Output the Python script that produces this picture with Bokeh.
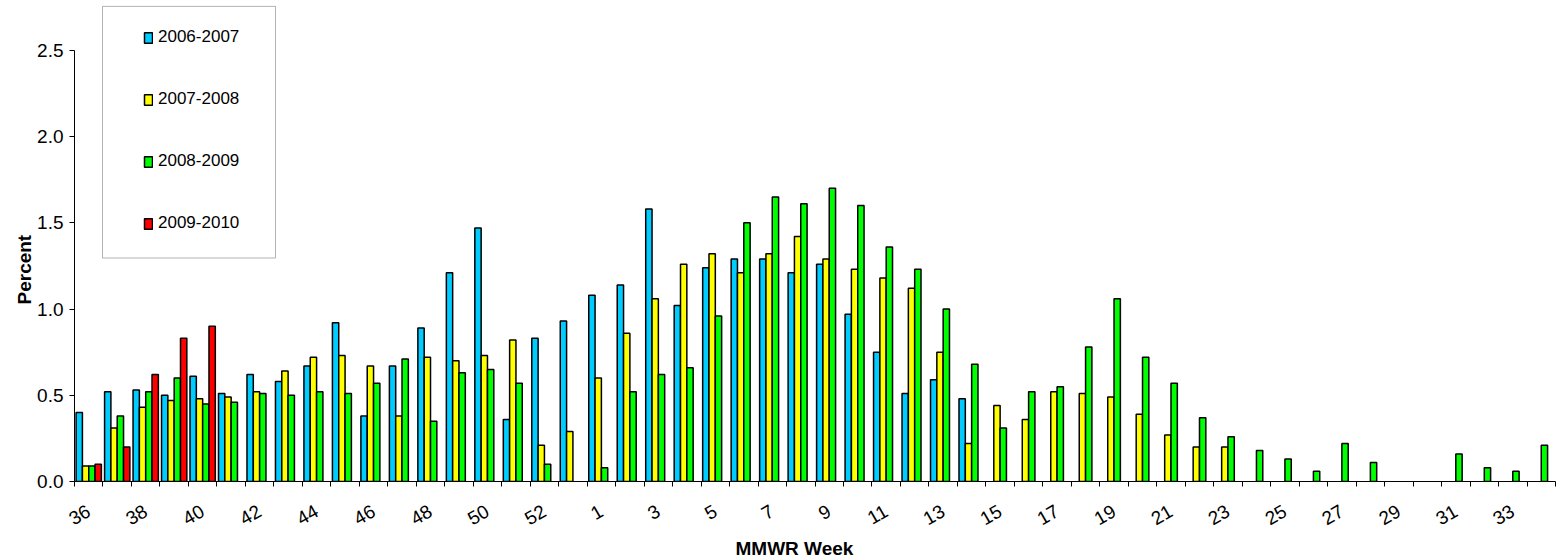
import math
from bokeh.plotting import figure
from bokeh.models import (Range1d, FixedTicker, Legend, LegendItem, BoxAnnotation,
                          ColumnDataSource, NumeralTickFormatter, Title)
from bokeh.embed import file_html
from bokeh.resources import INLINE

# ---------------- data ----------------
weeks = list(range(36, 54)) + list(range(1, 35))
week_labels = [str(w) for w in weeks]

series_names = ["2006-2007", "2007-2008", "2008-2009", "2009-2010"]
series_colors = ["#00CCFF", "#FFFF00", "#00FF00", "#FF0000"]

s2006_2007 = [0.40, 0.52, 0.53, 0.50, 0.61, 0.51, 0.62, 0.58, 0.67, 0.92, 0.38, 0.67,
              0.89, 1.21, 1.47, 0.36, 0.83, 0.93,
              1.08, 1.14, 1.58, 1.02, 1.24, 1.29, 1.29, 1.21, 1.26, 0.97, 0.75, 0.51,
              0.59, 0.48] + [None] * 20

s2007_2008 = [0.09, 0.31, 0.43, 0.47, 0.48, 0.49, 0.52, 0.64, 0.72, 0.73, 0.67, 0.38,
              0.72, 0.70, 0.73, 0.82, 0.21, 0.29,
              0.60, 0.86, 1.06, 1.26, 1.32, 1.21, 1.32, 1.42, 1.29, 1.23, 1.18, 1.12,
              0.75, 0.22, 0.44, 0.36, 0.52, 0.51, 0.49, 0.39, 0.27, 0.20, 0.20] + [None] * 11

s2008_2009 = [0.09, 0.38, 0.52, 0.60, 0.45, 0.46, 0.51, 0.50, 0.52, 0.51, 0.57, 0.71,
              0.35, 0.63, 0.65, 0.57, 0.10, None,
              0.08, 0.52, 0.62, 0.66, 0.96, 1.50, 1.65, 1.61, 1.70, 1.60, 1.36, 1.23,
              1.00, 0.68, 0.31, 0.52, 0.55, 0.78, 1.06, 0.72, 0.57, 0.37, 0.26, 0.18,
              0.13, 0.06, 0.22, 0.11, None, None, 0.16, 0.08, 0.06, 0.21]

s2009_2010 = [0.10, 0.20, 0.62, 0.83, 0.90] + [None] * 47

y_ticks = [0.0, 0.5, 1.0, 1.5, 2.0, 2.5]

all_series = [s2006_2007, s2007_2008, s2008_2009, s2009_2010]

# ---------------- figure ----------------
FONT = "Liberation Sans"
ncat = len(weeks)
p = figure(width=1556, height=559,
           x_range=Range1d(-0.5, ncat - 0.5), y_range=Range1d(0, 2.789),
           output_backend="svg", toolbar_location=None,
           min_border_left=74, min_border_right=1, min_border_top=0,
           min_border_bottom=77)
p.outline_line_color = None
p.xgrid.grid_line_color = None
p.ygrid.grid_line_color = None
p.background_fill_color = "white"

n = len(all_series)
bw = 0.222
renderers = []
for k, (vals, name, col) in enumerate(zip(all_series, series_names, series_colors)):
    off = (k - (n - 1) / 2) * bw
    xs = [i + off for i, v in enumerate(vals) if v is not None]
    ys = [v for v in vals if v is not None]
    src = ColumnDataSource(dict(x=xs, top=ys))
    r = p.vbar(x="x", top="top", bottom=0, width=bw, source=src,
               fill_color=col, line_color="black", line_width=1.5)
    renderers.append(r)

# x axis
xa = p.xaxis[0]
xa.ticker = FixedTicker(ticks=list(range(0, ncat, 2)),
                        minor_ticks=[i - 0.5 for i in range(ncat + 1)])
xa.major_label_overrides = {i: week_labels[i] for i in range(0, ncat, 2)}
xa.major_label_orientation = math.radians(30)
xa.major_tick_in = 0
xa.major_tick_out = 0
xa.minor_tick_in = 0
xa.minor_tick_out = 5
xa.minor_tick_line_color = "black"
xa.axis_line_color = "black"
xa.major_label_text_font = FONT
xa.major_label_text_font_size = "19px"
xa.major_label_text_color = "black"
xa.major_label_standoff = 23

# y axis
ya = p.yaxis[0]
ya.ticker = FixedTicker(ticks=y_ticks, minor_ticks=[])
ya.formatter = NumeralTickFormatter(format="0.0")
ya.bounds = (0, 2.5)
ya.major_tick_in = 0
ya.major_tick_out = 5
ya.major_tick_line_color = "black"
ya.axis_line_color = "black"
ya.major_label_text_font = FONT
ya.major_label_text_font_size = "19px"
ya.major_label_text_color = "black"
ya.major_label_standoff = 6

# axis titles (side titles, nudged along the axis with offset)
p.add_layout(Title(text="MMWR Week", align="left", offset=661, standoff=2,
                   text_font=FONT, text_font_style="bold", text_font_size="19px",
                   text_color="black"), "below")
p.add_layout(Title(text="Percent", align="left", offset=177, standoff=0,
                   text_font=FONT, text_font_style="bold", text_font_size="19px",
                   text_color="black"), "left")

# legend frame (box drawn around the legend entries)
box = BoxAnnotation(left=0.483, right=6.558, top=2.755, bottom=1.296,
                    fill_color=None, line_color="black", line_width=1)
p.add_layout(box)

legend = Legend(items=[LegendItem(label=nm, renderers=[r]) for nm, r in zip(series_names, renderers)],
                location=(69, 248), padding=0, margin=0, spacing=42,
                glyph_width=10, glyph_height=13, label_height=20, label_standoff=5,
                border_line_color=None, background_fill_color=None,
                label_text_font=FONT, label_text_font_size="17px",
                label_text_color="black")
p.add_layout(legend)

open("out.html", "w").write(file_html(p, INLINE))
